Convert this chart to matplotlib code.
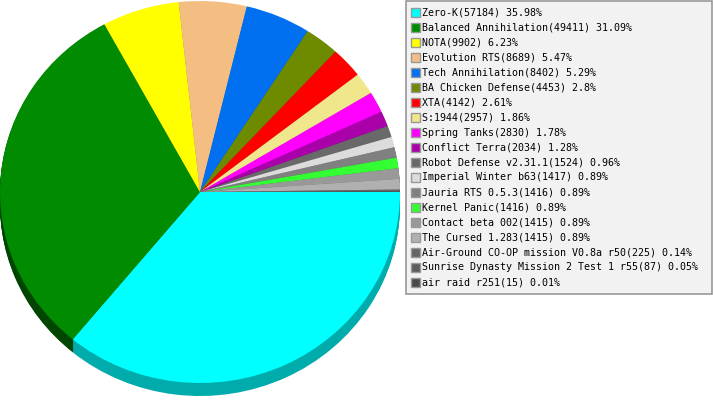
import numpy as np
import matplotlib
matplotlib.use("Agg")
import matplotlib.pyplot as plt
from matplotlib.patches import Rectangle
from matplotlib.colors import to_rgb


# Mod usage data — counts and percentages as shown in the legend
NAMES = [
    "Zero-K", "Balanced Annihilation", "NOTA", "Evolution RTS",
    "Tech Annihilation", "BA Chicken Defense", "XTA", "S:1944",
    "Spring Tanks", "Conflict Terra", "Robot Defense v2.31.1",
    "Imperial Winter b63", "Jauria RTS 0.5.3", "Kernel Panic",
    "Contact beta 002", "The Cursed 1.283",
    "Air-Ground CO-OP mission V0.8a r50",
    "Sunrise Dynasty Mission 2 Test 1 r55", "air raid r251",
]
COUNTS = [57184, 49411, 9902, 8689, 8402, 4453, 4142, 2957, 2830, 2034,
          1524, 1417, 1416, 1416, 1415, 1415, 225, 87, 15]
PCTS = ["35.98", "31.09", "6.23", "5.47", "5.29", "2.8", "2.61", "1.86",
        "1.78", "1.28", "0.96", "0.89", "0.89", "0.89", "0.89", "0.89",
        "0.14", "0.05", "0.01"]

COLORS = ["#00ffff", "#008b00", "#ffff00", "#f4be82", "#0070f0", "#6e8b00",
          "#ff0000", "#f0e68c", "#ff00ff", "#aa00aa", "#696969", "#dcdcdc",
          "#808080", "#33ff33", "#999999", "#b0b0b0", "#666666", "#5c5c5c",
          "#4a4a4a"]


def darker(c, f=0.67):
    r, g, b = to_rgb(c)
    return (r * f, g * f, b * f)


SIDE = [darker(c) for c in COLORS]
SIDE[1] = (0.0, 0.27, 0.0)

W, H = 713, 400
fig = plt.figure(figsize=(W / 100, H / 100), dpi=100)

# ------------------------------------------------------------------
# Pie (elliptical top face + extruded side)
# ------------------------------------------------------------------
ry_px = 191.0
depth_px = 13
top_px, bot_px = 1, 1 + 2 * ry_px + depth_px
ax = fig.add_axes([0, (H - bot_px) / H, 400 / W, (bot_px - top_px) / H])

step = 1.0 / ry_px
for k in range(depth_px, 0, -1):
    ax.pie(COUNTS, colors=SIDE, startangle=0, counterclock=False,
           center=(0, -k * step), radius=1,
           wedgeprops=dict(linewidth=0, antialiased=True))
ax.pie(COUNTS, colors=COLORS, startangle=0, counterclock=False,
       center=(0, 0), radius=1,
       wedgeprops=dict(linewidth=0, antialiased=True))
ax.set_aspect("auto")
ax.set_xlim(-1, 1)
ax.set_ylim(-1 - depth_px * step, 1)
ax.axis("off")

# ------------------------------------------------------------------
# Legend (pixel coordinates)
# ------------------------------------------------------------------
lg = fig.add_axes([0, 0, 1, 1])
lg.set_xlim(0, W)
lg.set_ylim(H, 0)
lg.axis("off")

lg.add_patch(Rectangle((405.5, 0.5), 306.5, 293.5, facecolor="#f2f2f2",
                       edgecolor="#999999", linewidth=1.2))

for i, (name, cnt, pct) in enumerate(zip(NAMES, COUNTS, PCTS)):
    y = 12 + 15 * i
    lg.add_patch(Rectangle((410.5, y - 4.5), 9, 9, facecolor=COLORS[i],
                           edgecolor="#999999", linewidth=1))
    lg.text(422, y + 0.5, f"{name}({cnt}) {pct}%", va="center", ha="left",
            fontsize=7.2, family="DejaVu Sans Mono", color="#000000")

fig.savefig("out.png", dpi=100)
